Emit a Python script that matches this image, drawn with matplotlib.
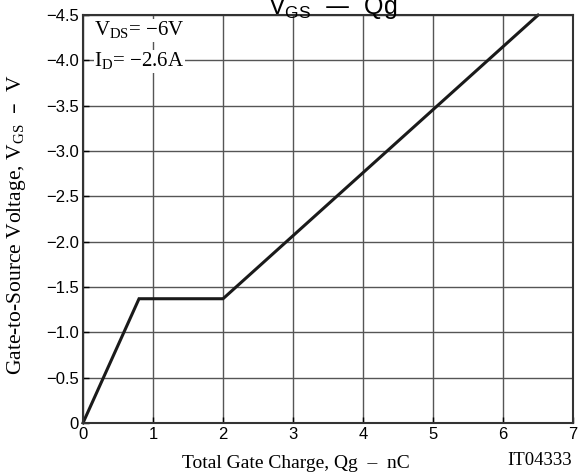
import matplotlib
matplotlib.use("Agg")
import matplotlib.pyplot as plt

qg = [0.0, 0.8, 2.0, 6.5]
vgs = [0.0, -1.37, -1.37, -4.5]
xticks = [0, 1, 2, 3, 4, 5, 6, 7]
yticks = [0, -0.5, -1.0, -1.5, -2.0, -2.5, -3.0, -3.5, -4.0, -4.5]
ytick_labels = ["0", "\u22120.5", "\u22121.0", "\u22121.5", "\u22122.0", "\u22122.5",
                "\u22123.0", "\u22123.5", "\u22124.0", "\u22124.5"]

fig = plt.figure(figsize=(5.79, 4.73), dpi=100)
ax = fig.add_axes([0.1434, 0.106, 0.8463, 0.862])
ax.set_xlim(0, 7)
ax.set_ylim(0, -4.5)
ax.set_xticks(xticks)
ax.set_yticks(yticks)
ax.set_yticklabels(ytick_labels)
ax.grid(True, color="#555555", linewidth=1.0)
ax.set_axisbelow(True)
for s in ax.spines.values():
    s.set_linewidth(1.5)
    s.set_color("#333333")
ax.tick_params(direction="in", length=4, width=1, labelsize=12, pad=3,
               labelfontfamily="Liberation Sans")

ax.plot(qg, vgs, color="#1a1a1a", linewidth=2.2, solid_joinstyle="miter", clip_on=False)

serif = "Liberation Serif"
ax.text(0.16, -4.33, "V$_{\\mathregular{DS}}$= \u22126V",
        fontsize=15, family=serif, va="center", ha="left",
        bbox=dict(facecolor="white", edgecolor="none", pad=0.5))
ax.text(0.16, -3.99, "I$_{\\mathregular{D}}$= \u22122.6A", fontsize=15, family=serif,
        va="center", ha="left", bbox=dict(facecolor="white", edgecolor="none", pad=0.5))

ax.set_xlabel("Total Gate Charge, Qg  \u2013  nC", fontsize=14, family=serif)
ax.xaxis.set_label_coords(0.435, -0.079)
ax.set_ylabel("Gate-to-Source Voltage, V$_{\\mathregular{GS}}$  \u2013  V", fontsize=15.5,
              family=serif)
ax.yaxis.set_label_coords(-0.113, 0.485)
fig.text(0.988, 0.008, "IT04333", fontsize=13.5, family=serif, ha="right", va="bottom")
fig.text(0.575, 0.985, "V$_{\\mathregular{GS}}$  \u2014  Qg", fontsize=18,
         family="Liberation Sans", ha="center", va="center")

fig.savefig("out.png", dpi=100)
